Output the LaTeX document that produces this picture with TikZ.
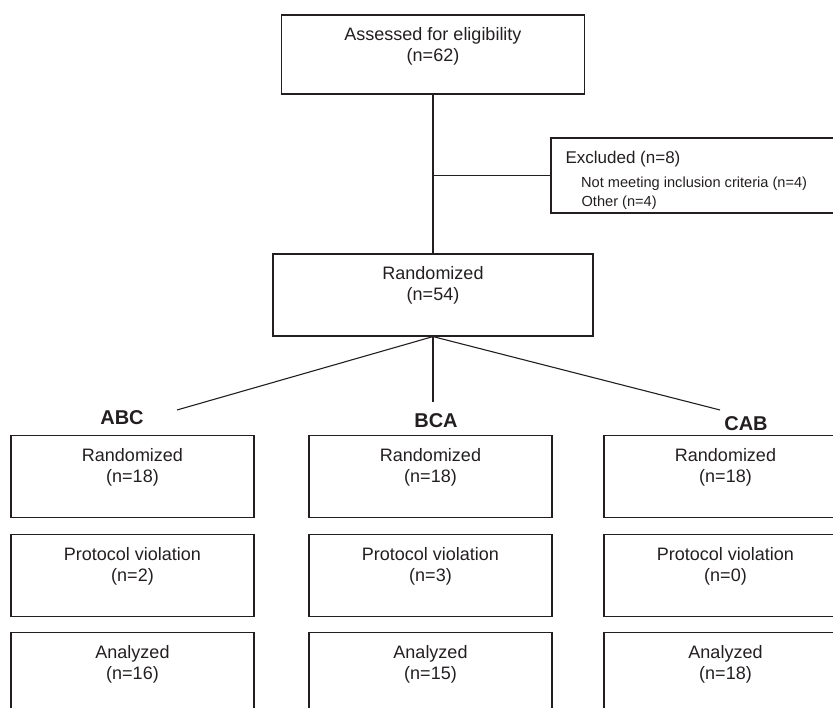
\documentclass[tikz,border=0pt]{standalone}
\usepackage{fontspec}
\setmainfont{Liberation Sans}
\usepackage{tikz}
\usetikzlibrary{positioning,calc}
\definecolor{Ink}{HTML}{231F20}

\begin{document}
\begin{tikzpicture}[
  x=1pt,y=1pt,
  box/.style={draw=Ink,line width=1.2pt,minimum width=243pt,minimum height=82pt,inner sep=0pt},
  boxtext/.style={anchor=north,yshift=-13pt,align=center,inner sep=0pt,text=Ink,font=\fontsize{18}{21}\selectfont},
  excltitle/.style={anchor=base west,inner sep=0pt,text=Ink,font=\fontsize{17}{20}\selectfont},
  exclitem/.style={anchor=base west,inner sep=0pt,text=Ink,font=\fontsize{14.6}{17}\selectfont},
  arm/.style={inner sep=0pt,text=Ink,font=\fontsize{20}{24}\selectfont\bfseries},
  link/.style={draw=Ink,line width=1.1pt}
]
  \clip (0,0) rectangle (833,708);
  % enrollment
  \node[box,minimum width=303pt,minimum height=79pt,label={[boxtext]north:{Assessed for eligibility\\(n=62)}}] (assess) at (433,653.5) {};
  \node[box,minimum width=300pt,minimum height=75pt] (excl) at (701,532.5) {};
  \node[excltitle] (exclhead) at ([shift={(15pt,11.5pt)}]excl.west) {Excluded (n=8)};
  \node[exclitem] (exclreason) at ([shift={(30.5pt,-12.5pt)}]excl.west) {Not meeting inclusion criteria (n=4)};
  \node[exclitem] (exclother) at ([shift={(31pt,-31.5pt)}]excl.west) {Other (n=4)};
  \node[box,minimum width=320pt,label={[boxtext]north:{Randomized\\(n=54)}}] (rand) at (433,413) {};
  \draw[link] (assess) -- (rand);
  \draw[link] (excl.west) -- (excl.west -| assess.south);

  % allocation
  \coordinate (abcend) at (177,298);
  \coordinate (bcaend) at (433,306);
  \coordinate (cabend) at (720,298);
  \draw[link] (rand.south) -- (abcend);
  \draw[link] (rand.south) -- (bcaend);
  \draw[link] (rand.south) -- (cabend);
  \node[arm] (abc) at (122,290) {ABC};
  \node[arm] (bca) at (436,287) {BCA};
  \node[arm] (cab) at (746,284) {CAB};

  % sequence groups
  \node[box,label={[boxtext]north:{Randomized\\(n=18)}}] (abcrand) at (132.5,231.5) {};
  \node[box,label={[boxtext]north:{Randomized\\(n=18)}}] (bcarand) at (430.5,231.5) {};
  \node[box,label={[boxtext]north:{Randomized\\(n=18)}}] (cabrand) at (725.5,231.5) {};
  \node[box,label={[boxtext]north:{Protocol violation\\(n=2)}}] (abcviol) at (132.5,132.5) {};
  \node[box,label={[boxtext]north:{Protocol violation\\(n=3)}}] (bcaviol) at (430.5,132.5) {};
  \node[box,label={[boxtext]north:{Protocol violation\\(n=0)}}] (cabviol) at (725.5,132.5) {};
  \node[box,label={[boxtext]north:{Analyzed\\(n=16)}}] (abcana) at (132.5,34.5) {};
  \node[box,label={[boxtext]north:{Analyzed\\(n=15)}}] (bcaana) at (430.5,34.5) {};
  \node[box,label={[boxtext]north:{Analyzed\\(n=18)}}] (cabana) at (725.5,34.5) {};
\end{tikzpicture}
\end{document}
